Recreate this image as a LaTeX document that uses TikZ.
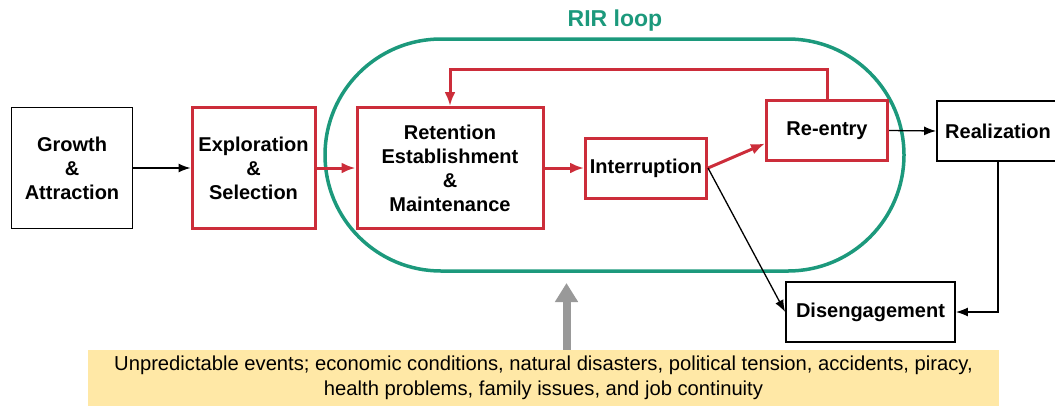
\documentclass[tikz,border=0pt]{standalone}
\usepackage{fontspec}
\setmainfont{Liberation Sans}
\usetikzlibrary{arrows.meta}
\definecolor{rirred}{HTML}{CC2D3A}
\definecolor{rirgreen}{HTML}{1C997C}
\definecolor{evyellow}{HTML}{FFE8A6}
\definecolor{arrgray}{HTML}{999999}
\begin{document}
\begin{tikzpicture}[x=1pt,y=-1pt,
  box/.style={draw=black, line width=1.8pt, font=\fontsize{20}{24}\selectfont\bfseries, align=center, inner sep=0pt},
  redbox/.style={box, draw=rirred, line width=3pt},
  blk/.style={draw=black, line width=1.3pt, -{Latex[length=12pt,width=9pt]}},
  redarr/.style={draw=rirred, line width=3pt, -{Latex[length=14pt,width=11pt]}},
  loopshape/.style={draw=rirgreen, line width=3.5pt, rounded corners=116pt, inner sep=0pt},
]
\useasboundingbox (0,0) rectangle (1055,405);
% RIR loop
\node[loopshape, minimum width=579pt, minimum height=232pt] (loop) at (614.5,155) {};
\node[text=rirgreen, font=\fontsize{23}{27}\selectfont\bfseries] (title) at (615,21) {RIR loop};
% boxes
\node[box, minimum width=121pt, minimum height=121pt] (growth) at (72,168) {Growth\\\&\\Attraction};
\node[redbox, minimum width=123pt, minimum height=121pt] (explo) at (253.5,168) {Exploration\\\&\\Selection};
\node[redbox, minimum width=186pt, minimum height=121pt] (ret) at (450,168) {Retention\\Establishment\\\&\\Maintenance};
\node[redbox, minimum width=121pt, minimum height=60pt] (int) at (646,168) {Interruption};
\node[redbox, minimum width=121pt, minimum height=60pt] (reent) at (827,130.5) {Re-entry};
\node[box, minimum width=122pt, minimum height=60pt] (realiz) at (998,131) {Realization};
\node[box, minimum width=169pt, minimum height=60pt] (diseng) at (870.5,312) {Disengagement};
% events
\node[fill=evyellow, minimum width=911pt, minimum height=56pt, inner sep=0pt, align=center,
      font=\fontsize{20.2}{24.5}\selectfont] (events) at (543.5,378)
  {Unpredictable events; economic conditions, natural disasters, political tension, accidents, piracy,\\health problems, family issues, and job continuity};
% connectors
\draw[blk] (growth.east) -- (explo.west);
\draw[redarr] (explo.east) -- (ret.west);
\draw[redarr] (ret.east) -- (int.west);
\draw[redarr] (int.east) -- ([yshift=-13pt]reent.west);
\draw[blk] (int.east) -- (diseng.west);
\draw[blk] (reent.east) -- (realiz.west);
\draw[blk] (realiz.south) |- (diseng.east);
\draw[redarr] (reent.north) -- ++(0,-30) -| (ret.north);
\coordinate (gtip) at (566.5,283);
\draw[arrgray, line width=8pt, -{Triangle[length=19pt,width=22pt]}] (events.north -| gtip) -- (gtip);
\end{tikzpicture}
\end{document}
